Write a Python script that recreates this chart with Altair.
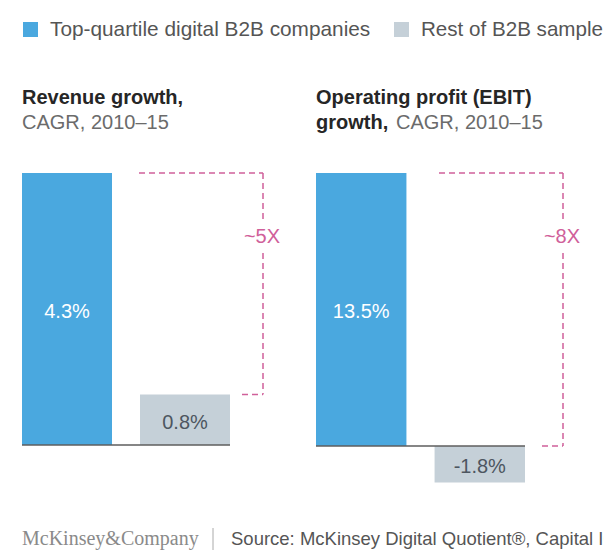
import altair as alt
import pandas as pd

# ---------------- data ----------------
groups = ["Top-quartile digital B2B companies", "Rest of B2B sample"]
top_values = [4.3, 13.5]          # top-quartile digital B2B companies
rest_values = [0.8, -1.8]         # rest of B2B sample
multipliers = ["~5X", "~8X"]
title_bold = [["Revenue growth,"], ["Operating profit (EBIT)", "growth,"]]
title_light = ["CAGR, 2010–15", "CAGR, 2010–15"]
brand = "McKinsey&Company"
source_text = "Source: McKinsey Digital Quotient®, Capital IQ"

# ---------------- styles ----------------
BLUE = "#4AA8DF"
GREY = "#C5D0D8"
PINK = "#D0609A"
FONT = "Liberation Sans"
SERIF = "Liberation Serif"
W, H = 596, 543


def panel(i, x_range, y_domain, br):
    df = pd.DataFrame({"group": groups, "value": [top_values[i], rest_values[i]]})
    df["mid"] = df["value"] / 2
    df["label"] = df["value"].map(lambda v: f"{v:.1f}%")
    base_df = pd.DataFrame({"zero": [0.0]})
    br_df = pd.DataFrame({
        "top": [top_values[i]],
        "bottom": [max(rest_values[i], 0.0)],
        "label": [multipliers[i]],
    })

    yscale = alt.Scale(domain=y_domain, range=[475, 165], nice=False, zero=False)
    xenc = alt.X("group:N", sort=groups, axis=None,
                 scale=alt.Scale(domain=groups, range=x_range,
                                 paddingInner=28 / 118, paddingOuter=0))

    bars = alt.Chart(df).mark_bar().encode(
        x=xenc,
        y=alt.Y("value:Q", scale=yscale, axis=None),
        y2=alt.Y2(datum=0),
        color=alt.Color("group:N", scale=alt.Scale(domain=groups, range=[BLUE, GREY]),
                        legend=None),
    )
    labels = alt.Chart(df).mark_text(font=FONT, fontSize=20, baseline="middle", dy=3).encode(
        x=xenc,
        y=alt.Y("mid:Q", scale=yscale, axis=None),
        text="label:N",
        color=alt.condition(alt.datum.group == groups[0], alt.value("white"),
                            alt.value("#4d5660")),
    )
    baseline = alt.Chart(base_df).mark_rule(color="#5e5e5e", strokeWidth=1.5).encode(
        y=alt.Y("zero:Q", scale=yscale, axis=None),
        x=alt.value(x_range[0]), x2=alt.value(x_range[1]),
    )
    dash = dict(color=PINK, strokeWidth=1.5, strokeDash=[6, 4])
    top_line = alt.Chart(br_df).mark_rule(**dash).encode(
        y=alt.Y("top:Q", scale=yscale, axis=None),
        x=alt.value(br["top_start"]), x2=alt.value(br["x"]),
    )
    vert_line = alt.Chart(br_df).mark_rule(**dash).encode(
        x=alt.value(br["x"]),
        y=alt.Y("top:Q", scale=yscale, axis=None), y2="bottom:Q",
    )
    bot_line = alt.Chart(br_df).mark_rule(**dash).encode(
        y=alt.Y("bottom:Q", scale=yscale, axis=None),
        x=alt.value(br["bot_start"]), x2=alt.value(br["x"]),
    )
    cx, cy = br["label"]
    box = alt.Chart(br_df).mark_rect(color="white").encode(
        x=alt.value(cx - 17), x2=alt.value(cx + 17),
        y=alt.value(cy - 14), y2=alt.value(cy + 14),
    )
    mult = alt.Chart(br_df).mark_text(font=FONT, fontSize=20, color=PINK,
                                      baseline="middle", dy=1).encode(
        x=alt.value(cx), y=alt.value(cy), text="label:N",
    )
    return alt.layer(bars, baseline, labels, top_line, vert_line, bot_line, box, mult)


left = panel(0, [14, 222], [-0.6008, 4.3],
             {"top_start": 131, "x": 255, "bot_start": 234, "label": (254, 228)})
right = panel(1, [308, 517], [-1.83, 13.5],
              {"top_start": 431, "x": 555, "bot_start": 534, "label": (554, 228)})

# ---------------- annotations ----------------
one = pd.DataFrame({"k": [0]})


def txt(s, x, y, size=20, color="#555555", weight="normal", font=FONT, align="left"):
    return alt.Chart(pd.DataFrame({"t": [s]})).mark_text(
        font=font, fontSize=size, color=color, fontWeight=weight,
        align=align, baseline="alphabetic",
    ).encode(x=alt.value(x), y=alt.value(y), text="t:N")


sq1 = alt.Chart(one).mark_rect(color=BLUE).encode(
    x=alt.value(15), x2=alt.value(30), y=alt.value(14), y2=alt.value(29))
sq2 = alt.Chart(one).mark_rect(color=GREY).encode(
    x=alt.value(386), x2=alt.value(401), y=alt.value(14), y2=alt.value(29))

annots = [
    sq1, sq2,
    txt(groups[0], 42, 28, size=20.8),
    txt(groups[1], 413, 28, size=20.6),
    txt(title_bold[0][0], 14, 96, color="#262626", weight="bold"),
    txt(title_light[0], 14, 121, color="#6b6b6b"),
    txt(title_bold[1][0], 308, 96, color="#262626", weight="bold"),
    txt(title_bold[1][1], 308, 121, color="#262626", weight="bold"),
    txt(title_light[1], 388, 121, color="#6b6b6b"),
    txt(brand, 14, 537, size=20, color="#8a8a8a", font=SERIF),
    alt.Chart(one).mark_rule(color="#aaaaaa", strokeWidth=1).encode(
        x=alt.value(205), y=alt.value(520), y2=alt.value(542)),
    txt(source_text, 223, 537, size=18.5, color="#555555"),
]

chart = alt.layer(left, right, *annots).resolve_scale(
    x="independent", y="independent"
).properties(
    width=W, height=H,
    autosize=alt.AutoSizeParams(type="none"),
    padding=0,
).configure_view(strokeWidth=0)

chart.save("out.html", embed_options={"renderer": "svg", "actions": False})
